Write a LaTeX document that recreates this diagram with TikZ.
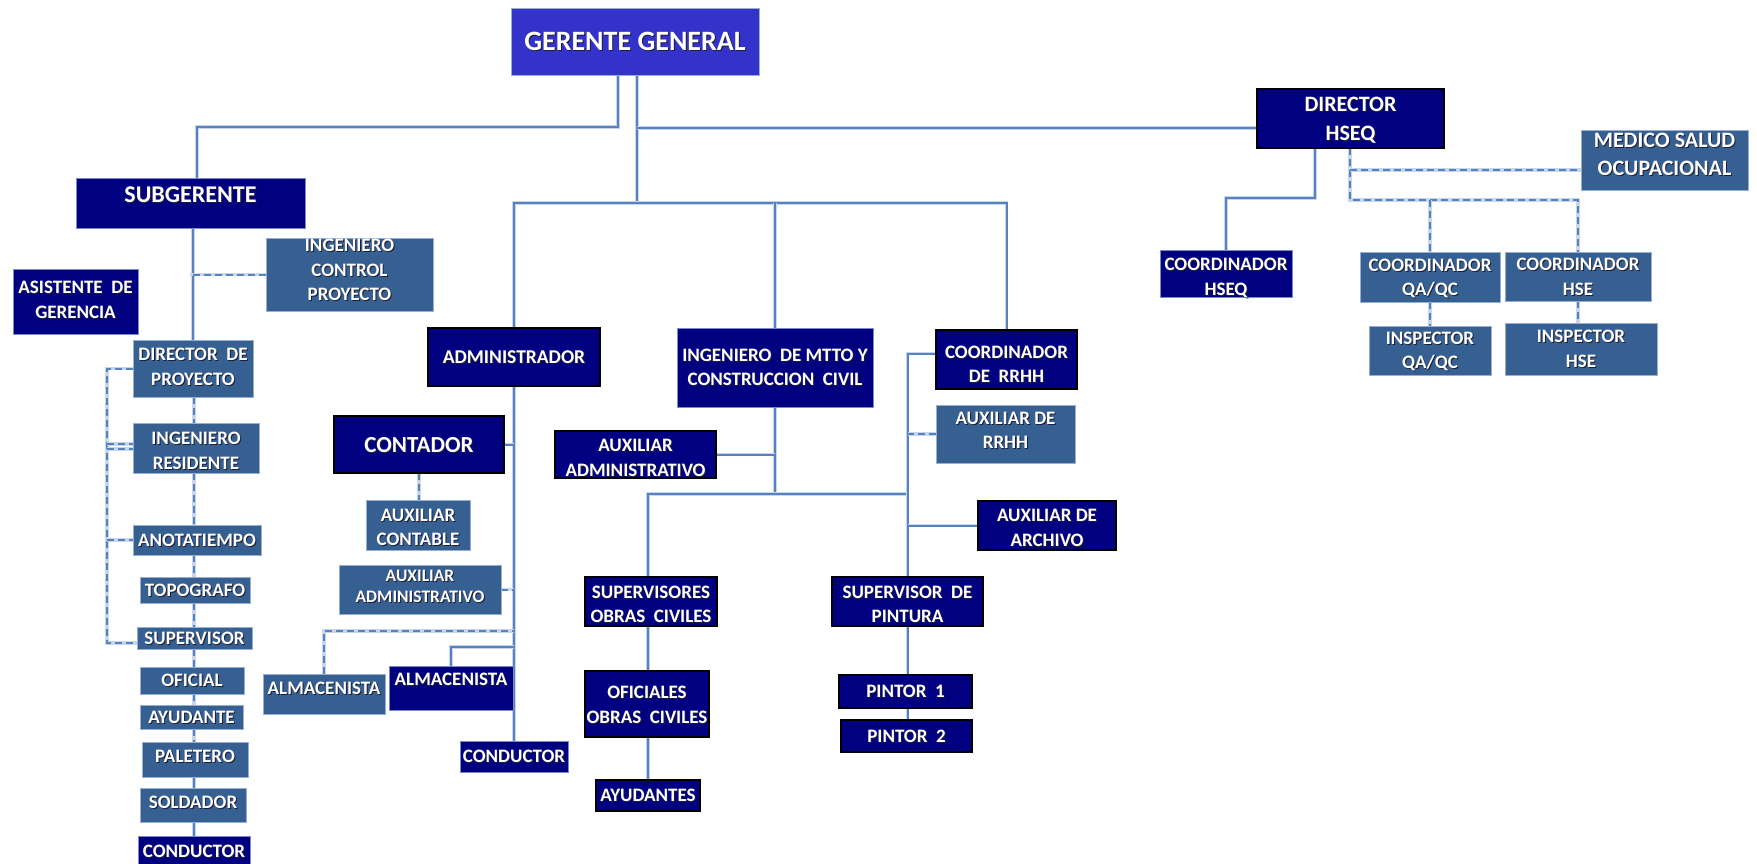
\documentclass[tikz,border=0pt]{standalone}
\usepackage{fontspec}
\setmainfont{Carlito}
\pgfdeclarelayer{lines}
\pgfsetlayers{lines,main}

\definecolor{navy}{RGB}{0,0,128}
\definecolor{steel}{RGB}{55,96,146}
\definecolor{ggblue}{RGB}{51,51,204}
\definecolor{lnblue}{RGB}{86,130,192}
\definecolor{lnglow}{RGB}{200,214,236}
\definecolor{navyedge}{RGB}{120,140,200}
\definecolor{steeledge}{RGB}{150,175,210}
\definecolor{shade}{RGB}{30,30,50}

% white lettering with a small dark drop shadow; \shdrop lowers a line
% without changing the size of the box that holds it
\newlength\shdrop
\newcommand\sh[1]{\raisebox{-\shdrop}[\height][\depth]{\rlap{\kern1pt\raisebox{-1pt}{\textcolor{shade}{#1}}}#1}}

% box from its corners (x1,y1)-(x2,y2), in pixel units with y downwards
\newcommand\bx[7]{%
  \pgfmathsetmacro\bxcx{(#3+#5)/2}%
  \pgfmathsetmacro\bxcy{(#4+#6)/2}%
  \pgfmathsetmacro\bxw{#5-#3}%
  \pgfmathsetmacro\bxh{#6-#4}%
  \node[#1, minimum width=\bxw, minimum height=\bxh] (#2) at (\bxcx,\bxcy) {#7};%
}

\begin{document}
\begin{tikzpicture}[x=1pt,y=-1pt,
  every node/.style={inner sep=0pt, outer sep=0pt},
  box/.style={rectangle, align=center, text=white, text depth=0pt,
    font=\bfseries\fontsize{19}{24.5}\selectfont},
  lower text/.style={execute at begin node={\setlength{\shdrop}{#1}}},
  f28/.style={font=\bfseries\fontsize{28}{32}\selectfont},
  f24/.style={font=\bfseries\fontsize{24}{28}\selectfont},
  f23/.style={font=\bfseries\fontsize{23}{27}\selectfont},
  f22/.style={font=\bfseries\fontsize{22}{28.5}\selectfont},
  f20/.style={font=\bfseries\fontsize{19.5}{24}\selectfont},
  f17/.style={font=\bfseries\fontsize{17.5}{21}\selectfont},
  ggbox/.style={box, f28, fill=ggblue, draw=steeledge, line width=0.8pt},
  navybox/.style={box, fill=navy, draw=navyedge, line width=0.8pt},
  navyblk/.style={box, fill=navy, draw=black, line width=1.8pt},
  steelbox/.style={box, fill=steel, draw=steeledge, line width=0.8pt},
  conn/.style={draw=lnblue, line width=2pt,
    preaction={draw=lnglow, line width=3.6pt}},
  dconn/.style={conn, dash pattern=on 7pt off 4pt},
]
\useasboundingbox (0,0) rectangle (1757,864);

% ---------- top level ----------
\bx{ggbox}{gg}{511}{8}{759}{75}{\sh{GERENTE GENERAL}}
\bx{navybox,f24,text depth=16pt}{subg}{76}{178}{305}{228}{\sh{SUBGERENTE}}
\bx{navyblk,f22,lower text=0.5pt}{dirh}{1257}{89}{1444}{148}{\sh{DIRECTOR}\\\sh{HSEQ}}

% ---------- subgerencia ----------
\bx{steelbox,text depth=9pt}{ingcp}{266}{238}{433}{311}{\sh{INGENIERO}\\\sh{CONTROL}\\\sh{PROYECTO}}
\bx{navybox,text depth=3pt}{asist}{13}{269}{138}{334}{\sh{ASISTENTE\ \ DE}\\\sh{GERENCIA}}
\bx{steelbox,text depth=3pt}{dirp}{133}{340}{253}{397}{\sh{DIRECTOR\ \ DE}\\\sh{PROYECTO}}
\bx{steelbox,lower text=2.8pt}{ingr}{133}{423}{259}{473}{\sh{INGENIERO}\\\sh{RESIDENTE}}
\bx{steelbox}{anot}{133}{525}{261}{555}{\sh{ANOTATIEMPO}}
\bx{steelbox}{topo}{140}{577}{250}{603}{\sh{TOPOGRAFO}}
\bx{steelbox}{superv}{137}{627}{252}{649}{\sh{SUPERVISOR}}
\bx{steelbox}{ofic}{140}{667}{244}{694}{\sh{OFICIAL}}
\bx{steelbox}{ayud}{140}{705}{243}{729}{\sh{AYUDANTE}}
\bx{steelbox,text depth=7pt}{palet}{142}{742}{248}{777}{\sh{PALETERO}}
\bx{steelbox,text depth=6pt}{sold}{140}{788}{246}{822}{\sh{SOLDADOR}}
\bx{navybox}{cond1}{138}{836}{250}{866}{\sh{CONDUCTOR}}

% ---------- administracion ----------
\bx{navyblk,f20}{admin}{428}{328}{600}{386}{\sh{ADMINISTRADOR}}
\bx{navyblk,f23}{cont}{334}{416}{504}{473}{\sh{CONTADOR}}
\bx{steelbox,lower text=2.2pt}{auxc}{366}{500}{470}{550}{\sh{AUXILIAR}\\\sh{CONTABLE}}
\bx{steelbox,f17,text depth=7pt}{auxa1}{339}{565}{501}{614}{\sh{AUXILIAR}\\\sh{ADMINISTRATIVO}}
\bx{steelbox,text depth=12pt}{alm1}{263}{674}{385}{714}{\sh{ALMACENISTA}}
\bx{navybox,text depth=18pt}{alm2}{389}{666}{513}{710}{\sh{ALMACENISTA}}
\bx{navybox}{cond2}{460}{741}{568}{772}{\sh{CONDUCTOR}}

% ---------- mantenimiento y construccion ----------
\bx{navybox}{ingm}{677}{328}{873}{407}{\sh{INGENIERO\ \ DE MTTO Y}\\\sh{CONSTRUCCION\ \ CIVIL}}
\bx{navyblk,lower text=3.4pt}{auxa2}{555}{431}{716}{478}{\sh{AUXILIAR}\\\sh{ADMINISTRATIVO}}
\bx{navyblk,lower text=2.8pt}{supoc}{585}{577}{717}{626}{\sh{SUPERVISORES}\\\sh{OBRAS\ \ CIVILES}}
\bx{navyblk,lower text=1pt}{ofoc}{585}{671}{709}{737}{\sh{OFICIALES}\\\sh{OBRAS\ \ CIVILES}}
\bx{navyblk}{ayuds}{596}{780}{700}{811}{\sh{AYUDANTES}}

% ---------- recursos humanos ----------
\bx{navyblk,lower text=5pt}{crrhh}{936}{330}{1077}{389}{\sh{COORDINADOR}\\\sh{DE\ \ RRHH}}
\bx{steelbox,text depth=7pt}{auxr}{936}{405}{1075}{463}{\sh{AUXILIAR DE}\\\sh{RRHH}}
\bx{navyblk,lower text=2.2pt}{auxar}{978}{501}{1116}{550}{\sh{AUXILIAR DE}\\\sh{ARCHIVO}}
\bx{navyblk,lower text=2.8pt}{suppin}{832}{577}{983}{626}{\sh{SUPERVISOR\ \ DE}\\\sh{PINTURA}}
\bx{navyblk}{pint1}{839}{675}{972}{708}{\sh{PINTOR\ \ 1}}
\bx{navyblk}{pint2}{841}{720}{972}{752}{\sh{PINTOR\ \ 2}}

% ---------- HSEQ ----------
\bx{steelbox,f22,text depth=11pt}{med}{1581}{130}{1748}{190}{\sh{MEDICO SALUD}\\\sh{OCUPACIONAL}}
\bx{navybox,lower text=3.4pt}{coordh}{1160}{250}{1292}{297}{\sh{COORDINADOR}\\\sh{HSEQ}}
\bx{steelbox,lower text=0.5pt}{coordqa}{1360}{252}{1500}{302}{\sh{COORDINADOR}\\\sh{QA/QC}}
\bx{steelbox,lower text=0.5pt}{coordhse}{1505}{252}{1651}{301}{\sh{COORDINADOR}\\\sh{HSE}}
\bx{steelbox}{insqa}{1369}{326}{1491}{375}{\sh{INSPECTOR}\\\sh{QA/QC}}
\bx{steelbox}{inshse}{1505}{323}{1657}{375}{\sh{INSPECTOR}\\\sh{HSE}}

% ---------- connectors ----------
\coordinate (xa) at (618,0);
\coordinate (jl) at (197,127);
\coordinate (jr) at (637,203);
\coordinate (jh) at (637,128);
\coordinate (xs) at (190,0);
\coordinate (lb) at (107,0);
\coordinate (sp) at (194,0);
\coordinate (ax) at (514,0);
\coordinate (ya1) at (0,631);
\coordinate (ya2) at (0,647);
\coordinate (b2) at (0,494);
\coordinate (rx) at (908,0);
\coordinate (ox) at (648,0);
\coordinate (hx1) at (1315,0);
\coordinate (hx2) at (1350,0);
\coordinate (hj) at (0,198);
\coordinate (hd1) at (0,170);
\coordinate (hd2) at (0,200);

\begin{pgfonlayer}{lines}
% general manager
\draw[conn] (gg.south -| xa) |- (jl) -- (subg.north -| jl);
\draw[conn] (gg.south -| jr) -- (jr);
\draw[conn] (jh) -- (dirh.west |- jh);
\draw[conn] (admin.north) |- (crrhh.north |- jr) -- (crrhh.north);
\draw[conn] (ingm.north) -- (ingm.north |- jr);

% subgerencia
\draw[conn] (subg.south -| dirp.north) -- (dirp.north);
\draw[dconn] (ingcp.west) -- (ingcp.west -| xs);
\draw[dconn] (dirp.west) -- (dirp.west -| lb) -- ([yshift=-5pt]superv.west -| lb) -- ([yshift=-5pt]superv.west);
\draw[dconn] ([yshift=4pt]ingr.west -| lb) -- ([yshift=4pt]ingr.west);
\draw[dconn] ([yshift=-1pt]ingr.west -| lb) -- ([yshift=-1pt]ingr.west);
\draw[dconn] (anot.west -| lb) -- (anot.west);
\draw[dconn] (dirp.south -| sp) -- (ingr.north -| sp);
\draw[dconn] (ingr.south -| sp) -- (anot.north -| sp);
\draw[dconn] (anot.south -| sp) -- (topo.north -| sp);
\draw[dconn] (topo.south -| sp) -- (superv.north -| sp);
\draw[dconn] (superv.south -| sp) -- (ofic.north -| sp);
\draw[dconn] (ofic.south -| sp) -- (ayud.north -| sp);
\draw[dconn] (ayud.south -| sp) -- (palet.north -| sp);
\draw[conn] (palet.south -| sp) -- (sold.north -| sp);
\draw[conn] (sold.south -| sp) -- (cond1.north -| sp);

% administracion
\draw[conn] (admin.south) -- (cond2.north -| admin.south);
\draw[conn] (cont.east) -- (cont.east -| ax);
\draw[dconn] (cont.south) -- (auxc.north -| cont.south);
\draw[dconn] (auxa1.east) -- (auxa1.east -| ax);
\draw[dconn] (alm1.north) |- (ya1 -| ax);
\draw[conn] (alm2.north) |- (ya2 -| ax);

% mantenimiento y construccion
\draw[conn] (ingm.south) -- (ingm.south |- b2);
\draw[conn] (auxa2.east) -- (auxa2.east -| ingm.south);
\draw[conn] (supoc.north -| ox) |- (b2 -| rx);
\draw[conn] (supoc.south -| ox) -- (ofoc.north -| ox);
\draw[conn] (ofoc.south -| ox) -- (ayuds.north -| ox);

% recursos humanos
\draw[conn] ([yshift=6pt]crrhh.west) -| (suppin.north);
\draw[dconn] (auxr.west) -- (auxr.west -| rx);
\draw[conn] (auxar.west) -- (auxar.west -| rx);
\draw[conn] (suppin.south) -- (pint1.north -| suppin.south);
\draw[conn] (pint1.south -| suppin.south) -- (pint2.north -| suppin.south);

% HSEQ
\draw[conn] (dirh.south -| hx1) |- (hj -| coordh.north) -- (coordh.north);
\draw[dconn] (dirh.south -| hx2) -- (hd2 -| hx2) -- (hd2 -| coordhse.north) -- (coordhse.north);
\draw[dconn] (hd1 -| hx2) -- (hd1 -| med.west);
\draw[dconn] (hd2 -| coordqa.north) -- (coordqa.north);
\draw[dconn] (coordqa.south) -- (insqa.north -| coordqa.south);
\draw[dconn] (coordhse.south) -- (inshse.north -| coordhse.south);
\end{pgfonlayer}
\end{tikzpicture}
\end{document}
